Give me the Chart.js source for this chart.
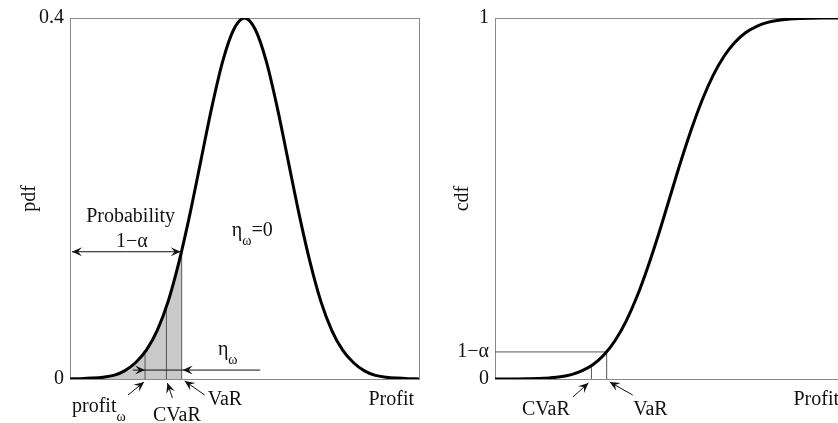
<!DOCTYPE html>
<html>
<head>
<meta charset="utf-8">
<script src="https://cdn.jsdelivr.net/npm/chart.js@4.4.1/dist/chart.umd.min.js"></script>
<style>
html, body { margin: 0; padding: 0; background: #fff; overflow: hidden; width: 838px; height: 423px; }
canvas { position: absolute; top: 0; }
#pdfChart { left: 0; }
#cdfChart { left: 420px; }
</style>
</head>
<body>
<canvas id="pdfChart" width="420" height="423"></canvas>
<canvas id="cdfChart" width="425" height="423"></canvas>
<script>
// profit axis (in standard deviations)
const profitX = [-4, -3.75, -3.5, -3.25, -3, -2.75, -2.5, -2.25, -2, -1.75, -1.5, -1.25, -1, -0.75, -0.5, -0.25,
    0, 0.25, 0.5, 0.75, 1, 1.25, 1.5, 1.75, 2, 2.25, 2.5, 2.75, 3, 3.25, 3.5, 3.75, 4];
const pdfValues = [0.0001, 0.0004, 0.001, 0.002, 0.004, 0.009, 0.018, 0.032, 0.054, 0.086, 0.13, 0.183, 0.242, 0.301, 0.352, 0.387,
    0.4, 0.387, 0.352, 0.301, 0.242, 0.183, 0.13, 0.086, 0.054, 0.032, 0.018, 0.009, 0.004, 0.002, 0.001, 0.0004, 0.0001];
const cdfValues = [0, 0.0001, 0.0002, 0.0006, 0.0013, 0.003, 0.006, 0.012, 0.023, 0.04, 0.067, 0.106, 0.159, 0.227, 0.309, 0.401,
    0.5, 0.599, 0.691, 0.773, 0.841, 0.894, 0.933, 0.96, 0.977, 0.988, 0.994, 0.997, 0.9987, 0.9994, 0.9998, 0.9999, 1];

// profit_ω, CVaR, VaR
const markerX = [-2.28, -1.79, -1.44];
const markerPdf = [0.03, 0.081, 0.141];
const markerCdf = [0.011, 0.037, 0.075];

const pdfTicks = [0, 0.4];
const pdfTickLabels = ['0', '0.4'];
const cdfTicks = [0, 0.075, 1];
const cdfTickLabels = ['0', '1−α', '1'];

const SERIF = '"Liberation Serif", "DejaVu Serif", serif';
const INK = '#111';
const FRAME = '#8a8a8a';

function arrowHead(ctx, x1, y1, x2, y2) {
    const a = Math.atan2(y2 - y1, x2 - x1);
    ctx.save();
    ctx.translate(x2, y2);
    ctx.rotate(a);
    ctx.beginPath();
    ctx.moveTo(0, 0);
    ctx.lineTo(-10, -4.5);
    ctx.lineTo(-6, 0);
    ctx.lineTo(-10, 4.5);
    ctx.closePath();
    ctx.fill();
    ctx.restore();
}

function arrow(ctx, x1, y1, x2, y2) {
    ctx.beginPath();
    ctx.moveTo(x1, y1);
    ctx.lineTo(x2, y2);
    ctx.stroke();
    arrowHead(ctx, x1, y1, x2, y2);
}

function label(ctx, str, x, y, align, size) {
    ctx.font = (size || 20) + 'px ' + SERIF;
    ctx.textAlign = align || 'left';
    ctx.textBaseline = 'alphabetic';
    ctx.fillText(str, x, y);
    return ctx.measureText(str).width;
}

// text with a subscript ω, e.g. η_ω
function subLabel(ctx, main, sub, rest, x, y) {
    let w = label(ctx, main, x, y);
    w += label(ctx, sub, x + w, y + 9, 'left', 14);
    if (rest) label(ctx, rest, x + w, y);
}

const framePlugin = {
    id: 'frame',
    beforeDatasetsDraw(chart) {
        const {ctx, chartArea: a} = chart;
        ctx.save();
        ctx.strokeStyle = FRAME;
        ctx.lineWidth = 1;
        ctx.strokeRect(a.left + 0.5, a.top + 0.5, a.right - a.left, a.bottom - a.top);
        ctx.restore();
    }
};

function pdfNotes(chart) {
    const {ctx} = chart;
    const X = v => chart.scales.x.getPixelForValue(v);
    const Y = v => chart.scales.y.getPixelForValue(v);
    const y0 = Y(0);
    ctx.save();
    ctx.fillStyle = INK;
    ctx.strokeStyle = INK;
    ctx.lineWidth = 1;

    // probability bracket 1-α
    const yb = Y(markerPdf[2]);
    arrow(ctx, X(-2.7), yb, X(-4) + 2, yb);
    arrow(ctx, X(-2.7), yb, X(markerX[2]) - 1, yb);
    label(ctx, 'Probability', X(-2.61), Y(0.174), 'center');
    label(ctx, '1−α', X(-2.58), Y(0.1466), 'center');

    subLabel(ctx, 'η', 'ω', '=0', X(-0.29), Y(0.1587));
    subLabel(ctx, 'η', 'ω', '', X(-0.61), Y(0.0264));

    // η_ω span between profit_ω and VaR
    const ye = Y(0.0099);
    ctx.beginPath();
    ctx.moveTo(X(-2.56), ye);
    ctx.lineTo(X(0.36), ye);
    ctx.stroke();
    arrowHead(ctx, X(-2.56), ye, X(markerX[0]), ye);
    arrowHead(ctx, X(0.36), ye, X(markerX[2]) + 1, ye);

    // labels under the axis
    const xp = X(markerX[0]), xc = X(markerX[1]), xv = X(markerX[2]);
    subLabel(ctx, 'profit', 'ω', '', X(-4) + 2, y0 + 33);
    arrow(ctx, xp - 17, y0 + 16, xp - 1, y0 + 3);
    label(ctx, 'CVaR', xc + 10.5, y0 + 42, 'center');
    arrow(ctx, xc + 6, y0 + 19, xc + 1, y0 + 4);
    label(ctx, 'VaR', xv + 26, y0 + 26);
    arrow(ctx, xv + 23, y0 + 16, xv + 3, y0 + 2);
    label(ctx, 'Profit', X(4) - 5, y0 + 26, 'right');
    ctx.restore();
}

function cdfNotes(chart) {
    const {ctx} = chart;
    const X = v => chart.scales.x.getPixelForValue(v);
    const Y = v => chart.scales.y.getPixelForValue(v);
    const y0 = Y(0);
    const xc = X(markerX[1]), xv = X(markerX[2]);
    ctx.save();
    ctx.fillStyle = INK;
    ctx.strokeStyle = INK;
    ctx.lineWidth = 1;
    label(ctx, 'CVaR', xc - 45.5, y0 + 36, 'center');
    arrow(ctx, xc - 18.5, y0 + 18, xc - 3, y0 + 4);
    label(ctx, 'VaR', xv + 26.5, y0 + 36);
    arrow(ctx, xv + 26, y0 + 16, xv + 3, y0 + 3);
    label(ctx, 'Profit', X(4) - 5, y0 + 26, 'right');
    ctx.restore();
}

function makeOptions(yMax, tickVals, tickLabels, yTitle, yWidth, titlePad) {
    return {
        responsive: false,
        animation: false,
        layout: { padding: { top: 16, right: 1, left: 0, bottom: 0 } },
        plugins: { legend: { display: false }, tooltip: { enabled: false } },
        scales: {
            x: {
                type: 'linear', min: -4, max: 4,
                grid: { display: false, drawTicks: false },
                border: { display: false },
                ticks: { display: false },
                afterFit: s => { s.height = 44; }
            },
            y: {
                min: 0, max: yMax,
                grid: { display: false, drawTicks: false },
                border: { display: false },
                afterBuildTicks: s => { s.ticks = tickVals.map(v => ({ value: v })); },
                ticks: { autoSkip: false, padding: 6, color: INK, font: { family: SERIF, size: 20 },
                    callback: (v, i) => tickLabels[i] },
                title: { display: true, text: yTitle, color: INK, font: { family: SERIF, size: 20 },
                    padding: { top: titlePad, bottom: 0 } },
                afterFit: s => { s.width = yWidth; }
            }
        }
    };
}

const pts = (xs, ys) => xs.map((x, i) => ({ x: x, y: ys[i] }));
const vLine = (x, h) => [{ x: x, y: 0 }, { x: x, y: h }];
const thin = { borderColor: '#555', borderWidth: 1, pointRadius: 0, fill: false };

// shaded tail up to VaR
const shadeX = profitX.filter(x => x <= markerX[2]).concat([markerX[2]]);
const shadeY = pdfValues.slice(0, shadeX.length - 1).concat([markerPdf[2]]);

new Chart(document.getElementById('pdfChart'), {
    type: 'line',
    data: {
        datasets: [
            { data: pts(profitX, pdfValues), borderColor: '#000', borderWidth: 3, pointRadius: 0,
              cubicInterpolationMode: 'monotone', fill: false },
            Object.assign({ data: vLine(markerX[0], markerPdf[0]) }, thin),
            Object.assign({ data: vLine(markerX[1], markerPdf[1]) }, thin),
            Object.assign({ data: vLine(markerX[2], markerPdf[2]) }, thin),
            { data: pts(shadeX, shadeY), borderWidth: 0, pointRadius: 0, cubicInterpolationMode: 'monotone',
              fill: 'origin', backgroundColor: '#c9c9c9' }
        ]
    },
    options: makeOptions(0.4, pdfTicks, pdfTickLabels, 'pdf', 70, 18),
    plugins: [framePlugin, { id: 'pdfNotes', afterDatasetsDraw: pdfNotes }]
});

new Chart(document.getElementById('cdfChart'), {
    type: 'line',
    data: {
        datasets: [
            { data: pts(profitX, cdfValues), borderColor: '#000', borderWidth: 3, pointRadius: 0,
              cubicInterpolationMode: 'monotone', fill: false },
            Object.assign({ data: vLine(markerX[1], markerCdf[1]) }, thin),
            Object.assign({ data: vLine(markerX[2], markerCdf[2]) }, thin),
            Object.assign({ data: [{ x: -4, y: cdfTicks[1] }, { x: markerX[2], y: cdfTicks[1] }] }, thin)
        ]
    },
    options: makeOptions(1, cdfTicks, cdfTickLabels, 'cdf', 75, 31),
    plugins: [framePlugin, { id: 'cdfNotes', afterDatasetsDraw: cdfNotes }]
});
</script>
</body>
</html>
